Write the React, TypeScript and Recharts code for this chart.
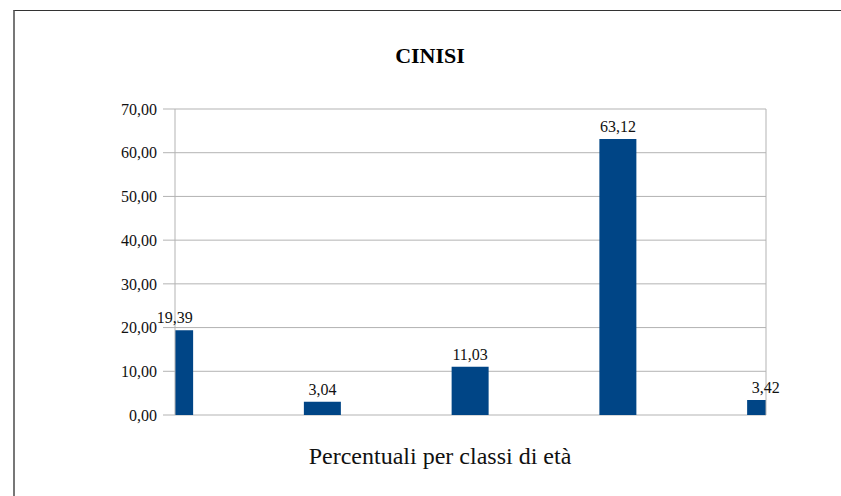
import { BarChart, Bar, XAxis, YAxis, CartesianGrid, ReferenceLine, LabelList } from 'recharts';

// age classes (positions on the category axis) and their percentages
const classes = [0, 1, 2, 3, 4];
const percentuali = [19.39, 3.04, 11.03, 63.12, 3.42];
const yTicks = [0, 10, 20, 30, 40, 50, 60, 70];

const data = classes.map((c, i) => ({ idx: c, value: percentuali[i] }));

const fmt = (v: number) => v.toFixed(2).replace('.', ',');
const FONT = '"Liberation Serif", "DejaVu Serif", serif';

export default function App() {
  return (
    <div style={{ position: 'absolute', left: 0, top: 0, width: 841, height: 496, background: '#fff', fontFamily: FONT }}>
      {/* frame of the original chart object */}
      <div style={{ position: 'absolute', left: 13, top: 10, right: 0, bottom: 0, borderTop: '1px solid #333', borderLeft: '2px solid #777' }} />
      <div style={{ position: 'absolute', left: 0, width: 860, top: 43, textAlign: 'center', fontSize: 22, fontWeight: 'bold', color: '#000' }}>
        CINISI
      </div>
      <BarChart
        width={841}
        height={496}
        data={data}
        margin={{ top: 109, right: 75, left: 0, bottom: 81 }}
        style={{ position: 'absolute', left: 0, top: 0 }}
      >
        <CartesianGrid vertical={false} stroke="#b3b3b3" />
        <XAxis
          type="number"
          dataKey="idx"
          domain={[0, 4]}
          ticks={classes}
          allowDataOverflow
          hide
        />
        <YAxis
          domain={[0, 70]}
          ticks={yTicks}
          width={175}
          tickSize={12}
          tickMargin={6}
          tickFormatter={fmt}
          tick={{ fill: '#111', fontSize: 16, fontFamily: FONT }}
          axisLine={{ stroke: '#b3b3b3' }}
          tickLine={{ stroke: '#b3b3b3' }}
        />
        <ReferenceLine x={4} stroke="#b3b3b3" />
        <Bar dataKey="value" fill="#004586" barSize={37} isAnimationActive={false}>
          <LabelList
            dataKey="value"
            position="top"
            offset={7}
            formatter={(v: any) => fmt(Number(v))}
            style={{ fill: '#111', fontSize: 16, fontFamily: FONT }}
          />
        </Bar>
      </BarChart>
      <div style={{ position: 'absolute', left: 0, width: 880, top: 443, textAlign: 'center', fontSize: 24, color: '#111' }}>
        Percentuali per classi di età
      </div>
    </div>
  );
}
